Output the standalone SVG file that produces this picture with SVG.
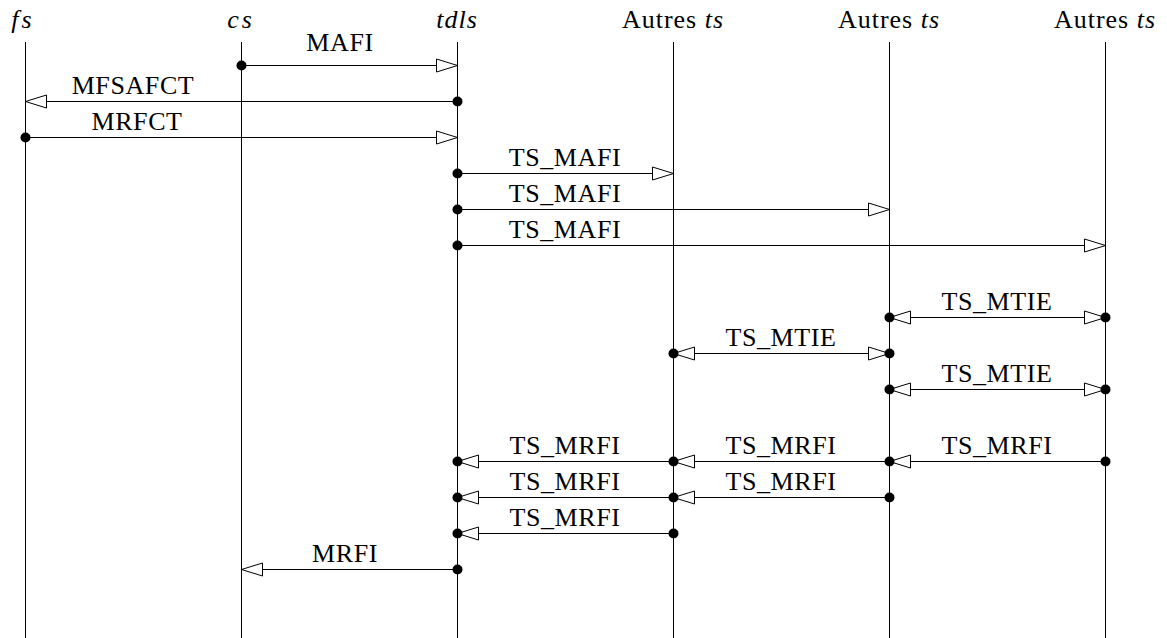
<svg xmlns="http://www.w3.org/2000/svg" xmlns:xlink="http://www.w3.org/1999/xlink" width="1167" height="638" viewBox="0 0 1167 638">
<style>
.hd{font-family:"Liberation Serif","DejaVu Serif",serif;font-size:26px;text-anchor:middle;letter-spacing:1px;fill:#000}
.it{font-style:italic}
.sp{letter-spacing:3px}
.lb{font-family:"Liberation Serif","DejaVu Serif",serif;font-size:26px;text-anchor:middle;letter-spacing:0.6px;fill:#000}
.ll{stroke:#000;stroke-width:1;fill:none}
.msg{stroke:#000;stroke-width:1;fill:none}
.ah{fill:#fff;stroke:#000;stroke-width:1}
.dt{fill:#000}
</style>
<defs>
<path id="ar" class="ah" d="M0,0 L-21,-6.5 L-21,6.5 Z"/>
<path id="al" class="ah" d="M0,0 L21,-6.5 L21,6.5 Z"/>
<circle id="dot" class="dt" r="5"/>
</defs>
<rect width="1167" height="638" fill="#fff"/>
<g id="fs"><text class="hd it sp" x="23" y="28">fs</text><line class="ll" x1="25.5" y1="42" x2="25.5" y2="638"/></g>
<g id="cs"><text class="hd it sp" x="241" y="28">cs</text><line class="ll" x1="241.5" y1="42" x2="241.5" y2="638"/></g>
<g id="tdls"><text class="hd it" x="457" y="28">tdls</text><line class="ll" x1="457.5" y1="42" x2="457.5" y2="638"/></g>
<g id="ts1"><text class="hd" x="673" y="28">Autres <tspan class="it">ts</tspan></text><line class="ll" x1="673.5" y1="42" x2="673.5" y2="638"/></g>
<g id="ts2"><text class="hd" x="889" y="28">Autres <tspan class="it">ts</tspan></text><line class="ll" x1="889.5" y1="42" x2="889.5" y2="638"/></g>
<g id="ts3"><text class="hd" x="1105" y="28">Autres <tspan class="it">ts</tspan></text><line class="ll" x1="1105.5" y1="42" x2="1105.5" y2="638"/></g>
<g id="connectors">
<line class="msg" x1="241.5" y1="65.5" x2="457.5" y2="65.5"/>
<use href="#ar" x="457.5" y="65.5"/><use href="#dot" x="241.5" y="65.5"/>
<text class="lb" x="340" y="51">MAFI</text>
<line class="msg" x1="457.5" y1="101.5" x2="25.5" y2="101.5"/>
<use href="#al" x="25.5" y="101.5"/><use href="#dot" x="457.5" y="101.5"/>
<text class="lb" x="133" y="94">MFSAFCT</text>
<line class="msg" x1="25.5" y1="137.5" x2="457.5" y2="137.5"/>
<use href="#ar" x="457.5" y="137.5"/><use href="#dot" x="25.5" y="137.5"/>
<text class="lb" x="137" y="130">MRFCT</text>
<line class="msg" x1="457.5" y1="173.5" x2="673.5" y2="173.5"/>
<use href="#ar" x="673.5" y="173.5"/><use href="#dot" x="457.5" y="173.5"/>
<text class="lb" x="565" y="166">TS_MAFI</text>
<line class="msg" x1="457.5" y1="209.5" x2="889.5" y2="209.5"/>
<use href="#ar" x="889.5" y="209.5"/><use href="#dot" x="457.5" y="209.5"/>
<text class="lb" x="565" y="202">TS_MAFI</text>
<line class="msg" x1="457.5" y1="245.5" x2="1105.5" y2="245.5"/>
<use href="#ar" x="1105.5" y="245.5"/><use href="#dot" x="457.5" y="245.5"/>
<text class="lb" x="565" y="238">TS_MAFI</text>
<line class="msg" x1="889.5" y1="317.5" x2="1105.5" y2="317.5"/>
<use href="#al" x="889.5" y="317.5"/><use href="#ar" x="1105.5" y="317.5"/>
<use href="#dot" x="889.5" y="317.5"/><use href="#dot" x="1105.5" y="317.5"/>
<text class="lb" x="997" y="310">TS_MTIE</text>
<line class="msg" x1="673.5" y1="353.5" x2="889.5" y2="353.5"/>
<use href="#al" x="673.5" y="353.5"/><use href="#ar" x="889.5" y="353.5"/>
<use href="#dot" x="673.5" y="353.5"/><use href="#dot" x="889.5" y="353.5"/>
<text class="lb" x="781" y="346">TS_MTIE</text>
<line class="msg" x1="889.5" y1="389.5" x2="1105.5" y2="389.5"/>
<use href="#al" x="889.5" y="389.5"/><use href="#ar" x="1105.5" y="389.5"/>
<use href="#dot" x="889.5" y="389.5"/><use href="#dot" x="1105.5" y="389.5"/>
<text class="lb" x="997" y="382">TS_MTIE</text>
<line class="msg" x1="1105.5" y1="461.5" x2="457.5" y2="461.5"/>
<use href="#al" x="889.5" y="461.5"/><use href="#al" x="673.5" y="461.5"/><use href="#al" x="457.5" y="461.5"/>
<use href="#dot" x="1105.5" y="461.5"/><use href="#dot" x="889.5" y="461.5"/><use href="#dot" x="673.5" y="461.5"/><use href="#dot" x="457.5" y="461.5"/>
<text class="lb" x="997" y="454">TS_MRFI</text>
<text class="lb" x="781" y="454">TS_MRFI</text>
<text class="lb" x="565" y="454">TS_MRFI</text>
<line class="msg" x1="889.5" y1="497.5" x2="457.5" y2="497.5"/>
<use href="#al" x="673.5" y="497.5"/><use href="#al" x="457.5" y="497.5"/>
<use href="#dot" x="889.5" y="497.5"/><use href="#dot" x="673.5" y="497.5"/><use href="#dot" x="457.5" y="497.5"/>
<text class="lb" x="781" y="490">TS_MRFI</text>
<text class="lb" x="565" y="490">TS_MRFI</text>
<line class="msg" x1="673.5" y1="533.5" x2="457.5" y2="533.5"/>
<use href="#al" x="457.5" y="533.5"/>
<use href="#dot" x="673.5" y="533.5"/><use href="#dot" x="457.5" y="533.5"/>
<text class="lb" x="565" y="526">TS_MRFI</text>
<line class="msg" x1="457.5" y1="569.5" x2="241.5" y2="569.5"/>
<use href="#al" x="241.5" y="569.5"/><use href="#dot" x="457.5" y="569.5"/>
<text class="lb" x="345" y="562">MRFI</text>
</g>
</svg>
